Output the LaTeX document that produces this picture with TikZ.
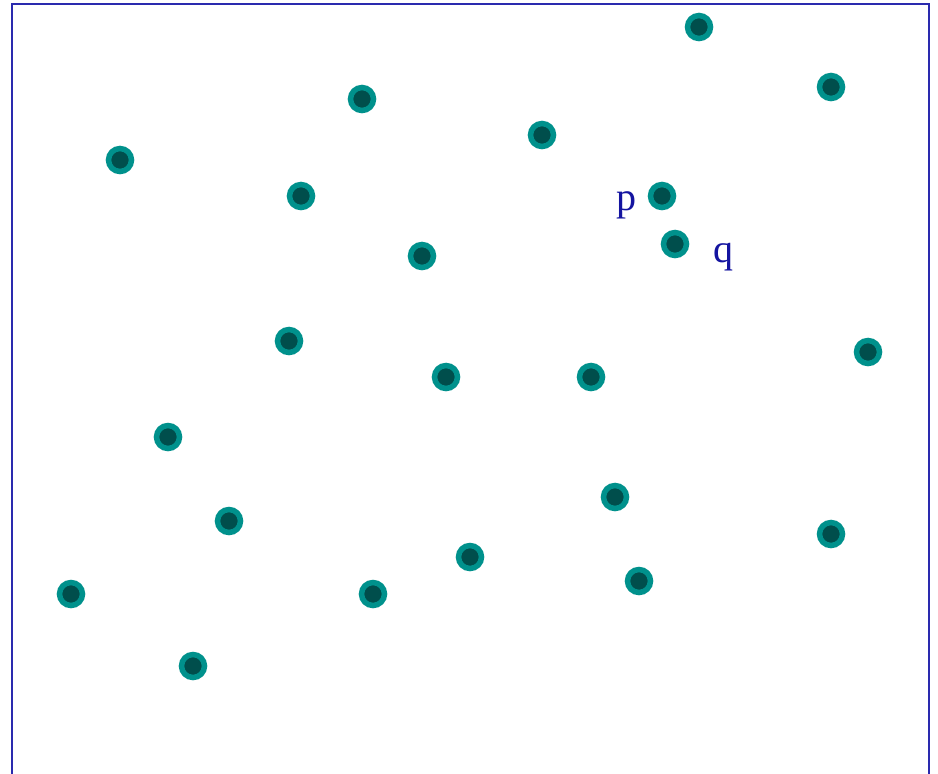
\documentclass[tikz,border=0pt]{standalone}
\usepackage{fontspec}
\setmainfont{Liberation Serif}
\definecolor{frameblue}{HTML}{2A2AAE}
\definecolor{labelblue}{HTML}{1414A0}
\definecolor{ringteal}{HTML}{00918C}
\definecolor{coreteal}{HTML}{004E4C}
\begin{document}
\begin{tikzpicture}[x=1pt,y=-1pt,
  pt/.style={circle,inner sep=0pt,minimum size=23pt,fill=coreteal,draw=ringteal,line width=5.5pt},
  lbl/.style={text=labelblue,font=\fontsize{40}{40}\selectfont,inner sep=0pt,anchor=base}]
\useasboundingbox (0,0) rectangle (938,774);
\clip (0,0) rectangle (938,774);
\fill[white] (0,0) rectangle (938,774);
\draw[frameblue,line width=1.8pt] (12,800) -- (12,4) -- (929,4) -- (929,800);
\node[pt] (d1) at (699,27) {};
\node[pt] (d2) at (831,87) {};
\node[pt] (d3) at (362,99) {};
\node[pt] (d4) at (542,135) {};
\node[pt] (d5) at (120,160) {};
\node[pt] (d6) at (301,196) {};
\node[pt] (p) at (662,196) {};
\node[pt] (q) at (675,244) {};
\node[pt] (d9) at (422,256) {};
\node[pt] (d10) at (289,341) {};
\node[pt] (d11) at (868,352) {};
\node[pt] (d12) at (446,377) {};
\node[pt] (d13) at (591,377) {};
\node[pt] (d14) at (168,437) {};
\node[pt] (d15) at (615,497) {};
\node[pt] (d16) at (229,521) {};
\node[pt] (d17) at (831,534) {};
\node[pt] (d18) at (470,557) {};
\node[pt] (d19) at (639,581) {};
\node[pt] (d20) at (71,594) {};
\node[pt] (d21) at (373,594) {};
\node[pt] (d22) at (193,666) {};
\node[lbl] (plbl) at (626,210) {p};
\node[lbl] (qlbl) at (723,262) {q};
\end{tikzpicture}
\end{document}
